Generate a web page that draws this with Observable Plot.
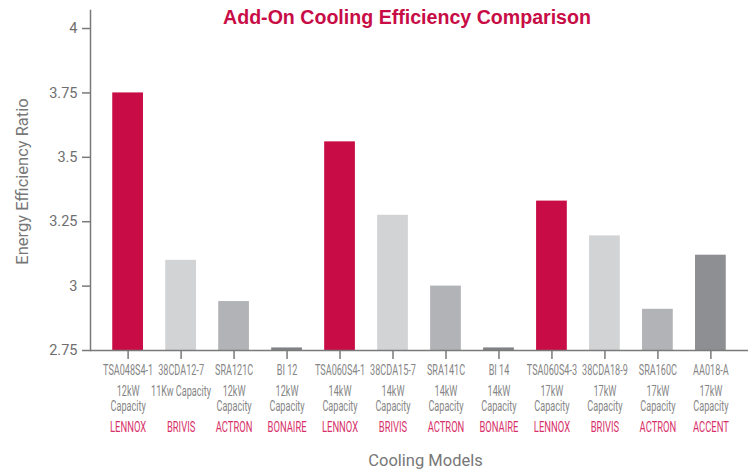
<!DOCTYPE html>
<html>
<head>
<meta charset="utf-8">
<script src="https://cdn.jsdelivr.net/npm/d3@7"></script>
<script src="https://cdn.jsdelivr.net/npm/@observablehq/plot@0.6"></script>
<style>
  html, body { margin: 0; padding: 0; background: #fff; }
  #wrap { position: relative; width: 756px; height: 472px; }
  #title { position: absolute; top: 6px; left: 0; width: 814px; text-align: center;
    font-family: "Liberation Sans", Arial, sans-serif; font-weight: bold; font-size: 19.6px; color: #C80C46; }
</style>
</head>
<body>
<div id="wrap">
  <div id="chart"></div>
  <div id="title">Add-On Cooling Efficiency Comparison</div>
</div>
<script>
const models = ["TSA048S4-1","38CDA12-7","SRA121C","BI 12","TSA060S4-1","38CDA15-7","SRA141C","BI 14","TSA060S4-3","38CDA18-9","SRA160C","AA018-A"];
const capacities = ["12kW","11Kw Capacity","12kW","12kW","14kW","14kW","14kW","14kW","17kW","17kW","17kW","17kW"];
const brands = ["LENNOX","BRIVIS","ACTRON","BONAIRE","LENNOX","BRIVIS","ACTRON","BONAIRE","LENNOX","BRIVIS","ACTRON","ACCENT"];
const eer = [3.75, 3.10, 2.94, 2.76, 3.56, 3.275, 3.00, 2.76, 3.33, 3.195, 2.91, 3.12];
const yTicks = [2.75, 3, 3.25, 3.5, 3.75, 4];
const brandNames = ["LENNOX","BRIVIS","ACTRON","BONAIRE","ACCENT"];
const brandColors = ["#C80C46","#D2D3D5","#B2B3B7","#808285","#8E8F93"];

const data = models.map((m, i) => ({
  model: m,
  cap1: capacities[i],
  cap2: capacities[i].includes("Capacity") ? "" : "Capacity",
  brand: brands[i],
  value: eer[i]
}));

const labelFont = "Roboto, sans-serif";
const grey = "#858585";

const chart = Plot.plot({
  width: 756,
  height: 472,
  marginTop: 10,
  marginBottom: 122,
  marginLeft: 90,
  marginRight: 8,
  style: { fontFamily: "Roboto, 'Liberation Sans', sans-serif", background: "#fff" },
  x: { type: "band", domain: models, padding: 0.42, round: false },
  y: { domain: [2.75, 4.07] },
  color: { domain: brandNames, range: brandColors },
  marks: [
    Plot.barY(data, { x: "model", y1: 2.75, y2: "value", fill: "brand" }),
    Plot.axisY({ ticks: yTicks, tickFormat: d => String(d), tickSize: 8, tickPadding: 5,
      stroke: "#7a7a7a", strokeWidth: 1.5, fontSize: 14.5, fill: "#6e6e6e", label: null }),
    Plot.axisX({ tickSize: 9, stroke: "#7a7a7a", strokeWidth: 1.5, tickFormat: () => "", label: null }),
    Plot.frame({ anchor: "left", stroke: "#7a7a7a", strokeWidth: 1.5 }),
    Plot.ruleY([2.75], { stroke: "#7a7a7a", strokeWidth: 1.5 }),
    Plot.text(data, { x: "model", text: "model", frameAnchor: "bottom", dy: 24, fontSize: 14, fill: grey, fontFamily: labelFont }),
    Plot.text(data, { x: "model", text: "cap1", frameAnchor: "bottom", dy: 45, fontSize: 14, fill: grey, fontFamily: labelFont }),
    Plot.text(data, { x: "model", text: "cap2", frameAnchor: "bottom", dy: 60, fontSize: 14, fill: grey, fontFamily: labelFont }),
    Plot.text(data, { x: "model", text: "brand", frameAnchor: "bottom", dy: 81, fontSize: 14.5, fill: "#D8316A", fontFamily: labelFont }),
    Plot.text(["Energy Efficiency Ratio"], { frameAnchor: "left", textAnchor: "middle", rotate: -90, dx: -68, dy: 1, fontSize: 16.5, fill: "#777" }),
    Plot.text(["Cooling Models"], { frameAnchor: "bottom", dx: 6, dy: 115, fontSize: 16.5, fill: "#777" })
  ]
});
document.getElementById("chart").appendChild(chart);

// condense the multi-line tick labels horizontally, like the reference's narrow face
const groups = chart.querySelectorAll('g[aria-label="text"]');
for (let g = 0; g < 4; g++) {
  groups[g].querySelectorAll("text").forEach(t => {
    const w = t.getComputedTextLength();
    if (w > 0) {
      t.setAttribute("textLength", (w * 0.65).toFixed(1));
      t.setAttribute("lengthAdjust", "spacingAndGlyphs");
    }
  });
}
</script>
</body>
</html>
